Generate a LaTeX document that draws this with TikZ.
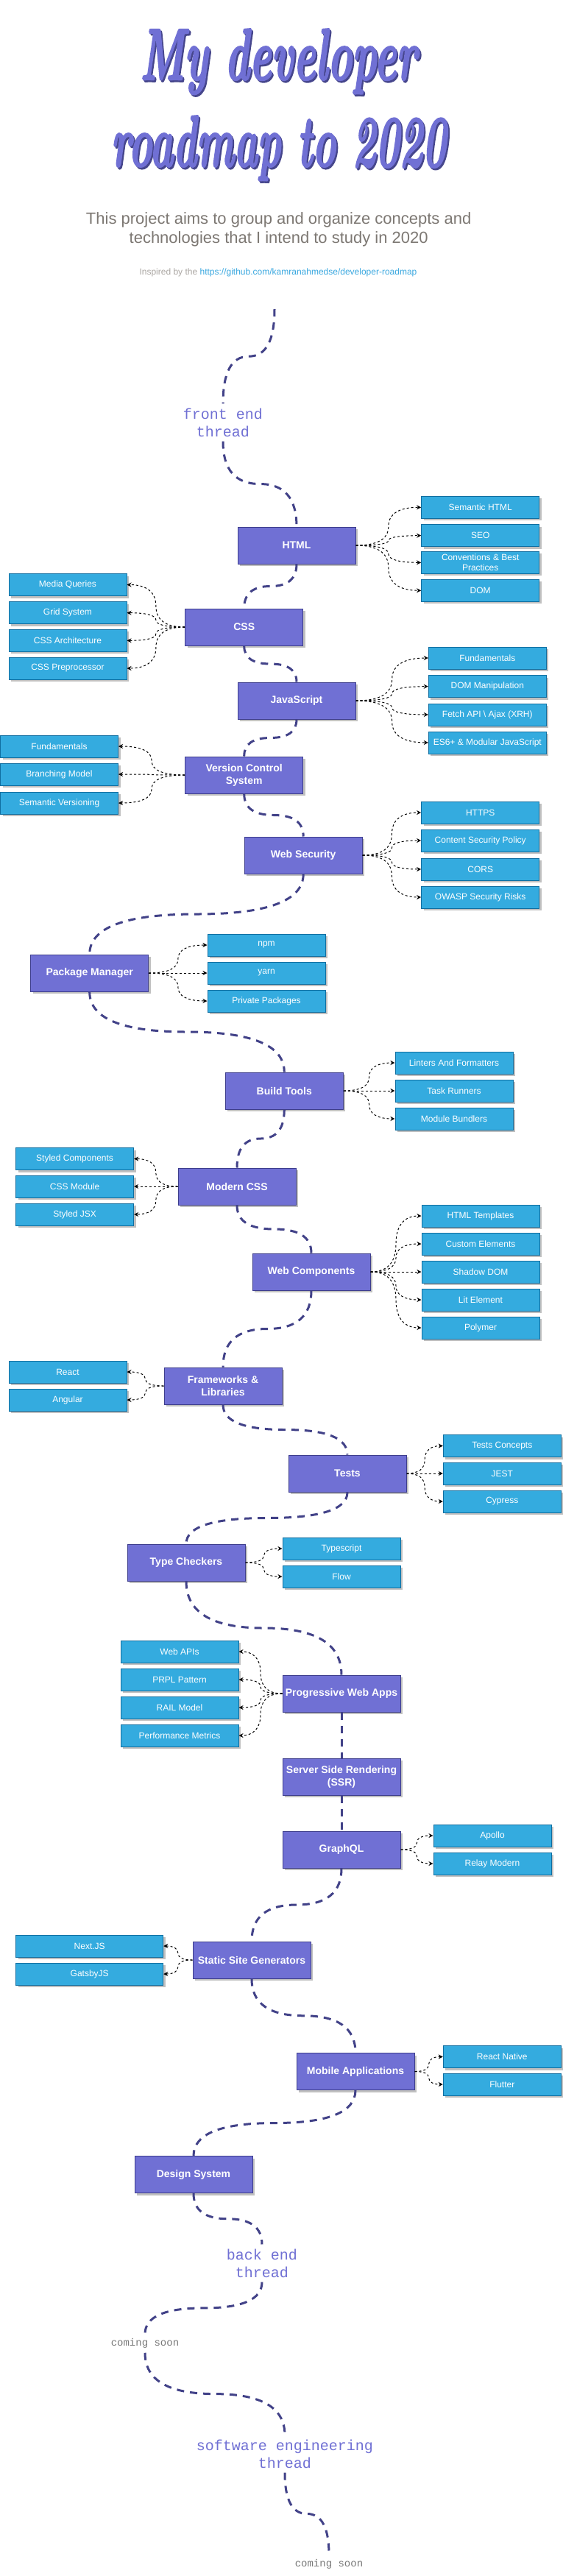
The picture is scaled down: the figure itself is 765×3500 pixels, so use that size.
\documentclass[tikz,border=0pt]{standalone}
\usepackage{fontspec}
\usepackage{graphicx}
\usetikzlibrary{arrows.meta,shadows,calc}
\newfontfamily\arialf{Liberation Sans}
\newfontfamily\monof{Liberation Mono}
\newfontfamily\titlef{Latin Modern Roman}[FakeBold=2.5]
\definecolor{mainfill}{RGB}{112,112,212}
\definecolor{mainborder}{RGB}{62,62,140}
\definecolor{subfill}{RGB}{52,171,223}
\definecolor{subborder}{RGB}{16,110,160}
\definecolor{shadowc}{RGB}{192,192,192}
\definecolor{threadc}{RGB}{66,66,136}
\definecolor{titlec}{RGB}{112,112,212}
\definecolor{titleshadow}{RGB}{70,70,140}
\definecolor{subtitlec}{RGB}{125,120,115}
\definecolor{inspc}{RGB}{170,166,162}
\definecolor{linkc}{RGB}{58,168,224}
\definecolor{soonc}{RGB}{120,120,120}
\begin{document}
\begin{tikzpicture}[x=1pt,y=-1pt,
  boxshadow/.style={drop shadow={shadow xshift=3pt,shadow yshift=-3pt,fill=shadowc,opacity=1}},
  mainbox/.style={boxshadow,draw=mainborder,fill=mainfill,line width=1pt,minimum width=160pt,minimum height=50pt,inner sep=2pt,text=white,font=\arialf\bfseries\fontsize{14}{16.8}\selectfont,align=center},
  subbox/.style={boxshadow,draw=subborder,fill=subfill,line width=1pt,minimum width=160pt,minimum height=30pt,inner sep=2pt,text=white,font=\arialf\fontsize{12}{14}\selectfont,align=center},
  threadlabel/.style={text=titlec,font=\monof\fontsize{20}{24}\selectfont,align=center,inner xsep=2pt,inner ysep=6pt},
  soonlabel/.style={text=soonc,font=\monof\fontsize{14}{16}\selectfont,inner xsep=2pt,inner ysep=6pt},
  thread/.style={draw=threadc,line width=3pt,dash pattern=on 10pt off 8pt},
  subline/.style={draw=black,line width=1pt,dash pattern=on 3pt off 3pt,-{Stealth[length=6pt,width=6pt]}},
  vcurve/.style={to path={let \p1=(\tikztostart), \p2=(\tikztotarget) in .. controls (\x1,{\y1+(\y2-\y1)/3}) and ({\x1+(\x2-\x1)/6},{(\y1+\y2)/2}) .. ({(\x1+\x2)/2},{(\y1+\y2)/2}) .. controls ({\x2-(\x2-\x1)/6},{(\y1+\y2)/2}) and (\x2,{\y2-(\y2-\y1)/3}) .. (\tikztotarget)}},
  hcurve/.style={to path={let \p1=(\tikztostart), \p2=(\tikztotarget) in .. controls ({\x1+(\x2-\x1)/3},\y1) and ({(\x1+\x2)/2},{\y1+(\y2-\y1)/6}) .. ({(\x1+\x2)/2},{(\y1+\y2)/2}) .. controls ({(\x1+\x2)/2},{\y2-(\y2-\y1)/6}) and ({\x2-(\x2-\x1)/3},\y2) .. (\tikztotarget)}}
]
\fill[white] (0,0) rectangle (765,3500);
\useasboundingbox (0,0) rectangle (765,3500);

% title
\node[anchor=north,inner sep=0,text=titleshadow] (t1s) at (380.5,41.5) {\resizebox*{376pt}{89pt}{\titlef\bfseries\itshape My developer}};
\node[anchor=north,inner sep=0,text=titlec] (t1) at (378.5,39) {\resizebox*{376pt}{89pt}{\titlef\bfseries\itshape My developer}};
\node[anchor=north,inner sep=0,text=titleshadow] (t2s) at (380.5,159.5) {\resizebox*{455pt}{88pt}{\titlef\bfseries\itshape roadmap to 2020}};
\node[anchor=north,inner sep=0,text=titlec] (t2) at (378.5,157) {\resizebox*{455pt}{88pt}{\titlef\bfseries\itshape roadmap to 2020}};

\node[anchor=base,text=subtitlec,font=\arialf\fontsize{22}{26}\selectfont] (sub1) at (378.7,304) {This project aims to group and organize concepts and};
\node[anchor=base,text=subtitlec,font=\arialf\fontsize{22}{26}\selectfont] (sub2) at (378.7,330) {technologies that I intend to study in 2020};
\node[anchor=base,font=\arialf\fontsize{12}{14}\selectfont] (insp) at (378,373) {\textcolor{inspc}{Inspired by the} \textcolor{linkc}{https://github.com/kamranahmedse/developer-roadmap}};

% thread labels
\coordinate (start) at (373,420);
\node[threadlabel] (fe) at (303,574) {front end\\thread};
\node[threadlabel] (be) at (356,3075) {back end\\thread};
\node[soonlabel] (soon1) at (197,3184) {coming soon};
\node[threadlabel] (se) at (387,3334) {software engineering\\thread};
\node[soonlabel] (soon2) at (447,3484) {coming soon};

% main boxes
\node[mainbox] (html) at (403,741) {HTML};
\node[mainbox] (css) at (331.7,852) {CSS};
\node[mainbox] (js) at (403,952) {JavaScript};
\node[mainbox] (vcs) at (331.7,1053) {Version Control\\System};
\node[mainbox] (websec) at (412.2,1162) {Web Security};
\node[mainbox] (pkg) at (121.7,1322) {Package Manager};
\node[mainbox] (build) at (386.3,1482) {Build Tools};
\node[mainbox] (mcss) at (322,1612) {Modern CSS};
\node[mainbox] (wc) at (423,1728) {Web Components};
\node[mainbox] (fw) at (303,1883) {Frameworks \&\\Libraries};
\node[mainbox] (tests) at (472,2002) {Tests};
\node[mainbox] (tc) at (253,2123) {Type Checkers};
\node[mainbox] (pwa) at (464,2301) {Progressive Web Apps};
\node[mainbox] (ssr) at (464,2414) {Server Side Rendering\\(SSR)};
\node[mainbox] (gql) at (464,2513) {GraphQL};
\node[mainbox] (ssg) at (342,2663) {Static Site Generators};
\node[mainbox] (mobile) at (483,2814.5) {Mobile Applications};
\node[mainbox] (ds) at (263,2954.5) {Design System};

% sub boxes
\node[subbox] (sh1) at (652.7,689.3) {Semantic HTML};
\node[subbox] (sh2) at (652.7,727.7) {SEO};
\node[subbox] (sh3) at (652.7,764.3) {Conventions \& Best\\Practices};
\node[subbox] (sh4) at (652.7,802.3) {DOM};

\node[subbox] (sc1) at (92,794.5) {Media Queries};
\node[subbox] (sc2) at (92,832.7) {Grid System};
\node[subbox] (sc3) at (92,870.3) {CSS Architecture};
\node[subbox] (sc4) at (92,908) {CSS Preprocessor};

\node[subbox] (sj1) at (662.3,894) {Fundamentals};
\node[subbox] (sj2) at (662.3,932.7) {DOM Manipulation};
\node[subbox] (sj3) at (662.3,971) {Fetch API \textbackslash{} Ajax (XRH)};
\node[subbox] (sj4) at (662.3,1009) {ES6+ \& Modular JavaScript};

\node[subbox] (sv1) at (80.5,1014) {Fundamentals};
\node[subbox] (sv2) at (80.5,1052) {Branching Model};
\node[subbox] (sv3) at (80.5,1091) {Semantic Versioning};

\node[subbox] (ss1) at (652.7,1104) {HTTPS};
\node[subbox] (ss2) at (652.7,1142) {Content Security Policy};
\node[subbox] (ss3) at (652.7,1181) {CORS};
\node[subbox] (ss4) at (652.7,1219) {OWASP Security Risks};

\node[subbox] (sp1) at (362,1284) {npm};
\node[subbox] (sp2) at (362,1322) {yarn};
\node[subbox] (sp3) at (362,1360) {Private Packages};

\node[subbox] (sb1) at (617,1444) {Linters And Formatters};
\node[subbox] (sb2) at (617,1482) {Task Runners};
\node[subbox] (sb3) at (617,1520) {Module Bundlers};

\node[subbox] (sm1) at (101.6,1574.5) {Styled Components};
\node[subbox] (sm2) at (101.6,1612) {CSS Module};
\node[subbox] (sm3) at (101.6,1650) {Styled JSX};

\node[subbox] (sw1) at (653,1652) {HTML Templates};
\node[subbox] (sw2) at (653,1690) {Custom Elements};
\node[subbox] (sw3) at (653,1728) {Shadow DOM};
\node[subbox] (sw4) at (653,1766) {Lit Element};
\node[subbox] (sw5) at (653,1804) {Polymer};

\node[subbox] (sf1) at (92,1864) {React};
\node[subbox] (sf2) at (92,1902) {Angular};

\node[subbox] (st1) at (682.3,1964.5) {Tests Concepts};
\node[subbox] (st2) at (682.3,2002) {JEST};
\node[subbox] (st3) at (682.3,2040) {Cypress};

\node[subbox] (sy1) at (464,2104) {Typescript};
\node[subbox] (sy2) at (464,2142) {Flow};

\node[subbox] (sq1) at (244,2244) {Web APIs};
\node[subbox] (sq2) at (244,2282) {PRPL Pattern};
\node[subbox] (sq3) at (244,2320) {RAIL Model};
\node[subbox] (sq4) at (244,2358) {Performance Metrics};

\node[subbox] (sg1) at (669,2494) {Apollo};
\node[subbox] (sg2) at (669,2532) {Relay Modern};

\node[subbox,minimum width=200pt] (sn1) at (121.7,2644) {Next.JS};
\node[subbox,minimum width=200pt] (sn2) at (121.7,2682) {GatsbyJS};

\node[subbox] (so1) at (682.3,2794.5) {React Native};
\node[subbox] (so2) at (682.3,2832) {Flutter};

% main thread
\draw[thread] (start) to[vcurve] (fe.north);
\draw[thread] (fe.south) to[vcurve] (html.north);
\draw[thread] (html.south) to[vcurve] (css.north);
\draw[thread] (css.south) to[vcurve] (js.north);
\draw[thread] (js.south) to[vcurve] (vcs.north);
\draw[thread] (vcs.south) to[vcurve] (websec.north);
\draw[thread] (websec.south) to[vcurve] (pkg.north);
\draw[thread] (pkg.south) to[vcurve] (build.north);
\draw[thread] (build.south) to[vcurve] (mcss.north);
\draw[thread] (mcss.south) to[vcurve] (wc.north);
\draw[thread] (wc.south) to[vcurve] (fw.north);
\draw[thread] (fw.south) to[vcurve] (tests.north);
\draw[thread] (tests.south) to[vcurve] (tc.north);
\draw[thread] (tc.south) to[vcurve] (pwa.north);
\draw[thread] (pwa.south) -- (ssr.north);
\draw[thread] (ssr.south) -- (gql.north);
\draw[thread] (gql.south) to[vcurve] (ssg.north);
\draw[thread] (ssg.south) to[vcurve] (mobile.north);
\draw[thread] (mobile.south) to[vcurve] (ds.north);
\draw[thread] (ds.south) to[vcurve] (be.north);
\draw[thread] (be.south) to[vcurve] (soon1.north);
\draw[thread] (soon1.south) to[vcurve] (se.north);
\draw[thread] (se.south) to[vcurve] (soon2.north);

% sub connectors
\foreach \s in {sh1,sh2,sh3,sh4} \draw[subline] (html.east) to[hcurve] (\s.west);
\foreach \s in {sc1,sc2,sc3,sc4} \draw[subline] (css.west) to[hcurve] (\s.east);
\foreach \s in {sj1,sj2,sj3,sj4} \draw[subline] (js.east) to[hcurve] (\s.west);
\foreach \s in {sv1,sv2,sv3} \draw[subline] (vcs.west) to[hcurve] (\s.east);
\foreach \s in {ss1,ss2,ss3,ss4} \draw[subline] (websec.east) to[hcurve] (\s.west);
\foreach \s in {sp1,sp2,sp3} \draw[subline] (pkg.east) to[hcurve] (\s.west);
\foreach \s in {sb1,sb2,sb3} \draw[subline] (build.east) to[hcurve] (\s.west);
\foreach \s in {sm1,sm2,sm3} \draw[subline] (mcss.west) to[hcurve] (\s.east);
\foreach \s in {sw1,sw2,sw3,sw4,sw5} \draw[subline] (wc.east) to[hcurve] (\s.west);
\foreach \s in {sf1,sf2} \draw[subline] (fw.west) to[hcurve] (\s.east);
\foreach \s in {st1,st2,st3} \draw[subline] (tests.east) to[hcurve] (\s.west);
\foreach \s in {sy1,sy2} \draw[subline] (tc.east) to[hcurve] (\s.west);
\foreach \s in {sq1,sq2,sq3,sq4} \draw[subline] (pwa.west) to[hcurve] (\s.east);
\foreach \s in {sg1,sg2} \draw[subline] (gql.east) to[hcurve] (\s.west);
\foreach \s in {sn1,sn2} \draw[subline] (ssg.west) to[hcurve] (\s.east);
\foreach \s in {so1,so2} \draw[subline] (mobile.east) to[hcurve] (\s.west);
\end{tikzpicture}
\end{document}
